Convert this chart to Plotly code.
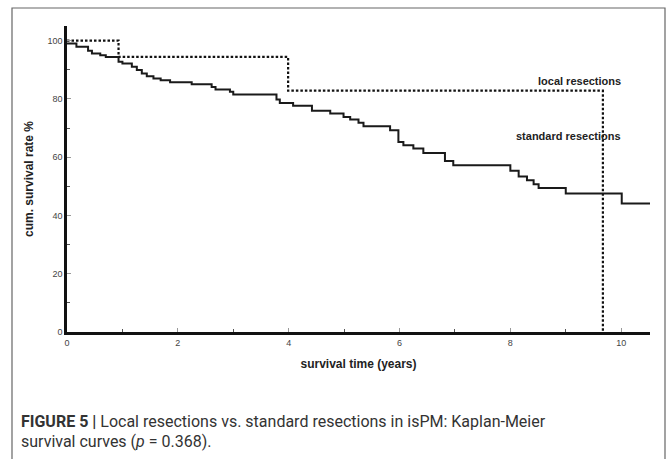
import plotly.graph_objects as go

# Standard resections (solid step curve)
std_t = [0, 0.17, 0.38, 0.45, 0.6, 0.7, 0.93, 1.0, 1.17, 1.26, 1.35, 1.44, 1.56, 1.69, 1.86,
         2.25, 2.61, 2.68, 2.94, 3.0, 3.78, 3.84, 4.08, 4.42, 4.75, 4.99, 5.11, 5.26, 5.35,
         5.83, 5.98, 6.07, 6.25, 6.43, 6.82, 6.97, 8.0, 8.15, 8.3, 8.42, 8.51, 9.0, 10.01, 10.52]
std_s = [99.0, 97.9, 96.5, 95.6, 95.0, 94.4, 92.7, 92.1, 91.0, 89.9, 88.7, 87.8, 87.0, 86.4, 85.7,
         85.0, 84.1, 83.2, 82.4, 81.5, 79.8, 78.6, 77.6, 75.9, 75.0, 73.8, 72.9, 71.8, 70.6,
         69.2, 65.2, 64.1, 63.0, 61.4, 58.7, 57.2, 55.3, 53.4, 52.1, 50.7, 49.4, 47.5, 44.1, 44.1]

# Local resections (dotted step curve)
loc_t = [0, 0.93, 3.99, 9.67, 9.67]
loc_s = [100, 94.4, 82.8, 82.8, 0]

x_ticks = [0, 2, 4, 6, 8, 10]
y_ticks = [0, 20, 40, 60, 80, 100]

# plot-area geometry (pixels) used to place paper-referenced items
L, R, T, B = 67, 650, 26, 332
W, H = R - L, B - T
px = lambda x: (x - L) / W
py = lambda y: (B - y) / H

fig = go.Figure()
fig.add_trace(go.Scatter(x=loc_t, y=loc_s, mode="lines", line_shape="hv",
                         line=dict(color="#111", width=2.2, dash="2.5px,2px"), name="local resections"))
fig.add_trace(go.Scatter(x=std_t, y=std_s, mode="lines", line_shape="hv",
                         line=dict(color="#1a1a1a", width=2), name="standard resections"))

axis_common = dict(showgrid=False, zeroline=False, showline=True, linecolor="#111", linewidth=2.5,
                   ticks="inside", ticklen=4, tickcolor="#999", tickwidth=1,
                   tickfont=dict(family="Liberation Sans, Arial", size=9, color="#444"))

fig.update_xaxes(range=[0, 10.52], tickvals=x_ticks, ticktext=[str(v) for v in x_ticks],
                 minor=dict(tickvals=[1, 3, 5, 7, 9], ticks="inside", ticklen=3, tickcolor="#555"),
                 title=dict(text="<b>survival time (years)</b>", standoff=14,
                            font=dict(family="Liberation Sans, Arial", size=12, color="#222")),
                 **axis_common)
fig.update_yaxes(range=[0, 105.0], tickvals=y_ticks, ticktext=[str(v) for v in y_ticks],
                 minor=dict(tickvals=[10, 30, 50, 70, 90], ticks="inside", ticklen=3, tickcolor="#555"),
                 title=dict(text="<b>cum. survival rate %</b>", standoff=12,
                            font=dict(family="Liberation Sans, Arial", size=12, color="#222")),
                 **axis_common)

fig.add_annotation(x=10.03, y=86.2, xref="x", yref="y", xanchor="right", yanchor="middle",
                   text="<b>local resections</b>", showarrow=False,
                   font=dict(family="Liberation Sans, Arial", size=11, color="#222"))
fig.add_annotation(x=10.03, y=67.3, xref="x", yref="y", xanchor="right", yanchor="middle",
                   text="<b>standard resections</b>", showarrow=False,
                   font=dict(family="Liberation Sans, Arial", size=11, color="#222"))

# Outer frame
fig.add_shape(type="rect", xref="paper", yref="paper",
              x0=px(12), x1=px(665), y0=py(475), y1=py(8),
              line=dict(color="#666", width=1.2), fillcolor="rgba(0,0,0,0)", layer="below")

# Caption
cap_font = dict(family="Roboto", size=16, color="#333")
fig.add_annotation(x=px(19), y=py(421.5), xref="paper", yref="paper", xanchor="left", yanchor="middle",
                   text="<b>FIGURE 5 |</b> Local resections vs. standard resections in isPM: Kaplan-Meier",
                   showarrow=False, align="left", font=cap_font)
fig.add_annotation(x=px(19), y=py(441.5), xref="paper", yref="paper", xanchor="left", yanchor="middle",
                   text="survival curves (<i>p</i> = 0.368).",
                   showarrow=False, align="left", font=cap_font)

fig.update_layout(
    width=668, height=459, margin=dict(l=L, r=668 - R, t=T, b=459 - B),
    paper_bgcolor="white", plot_bgcolor="white", showlegend=False,
)
fig.write_html("out.html")
